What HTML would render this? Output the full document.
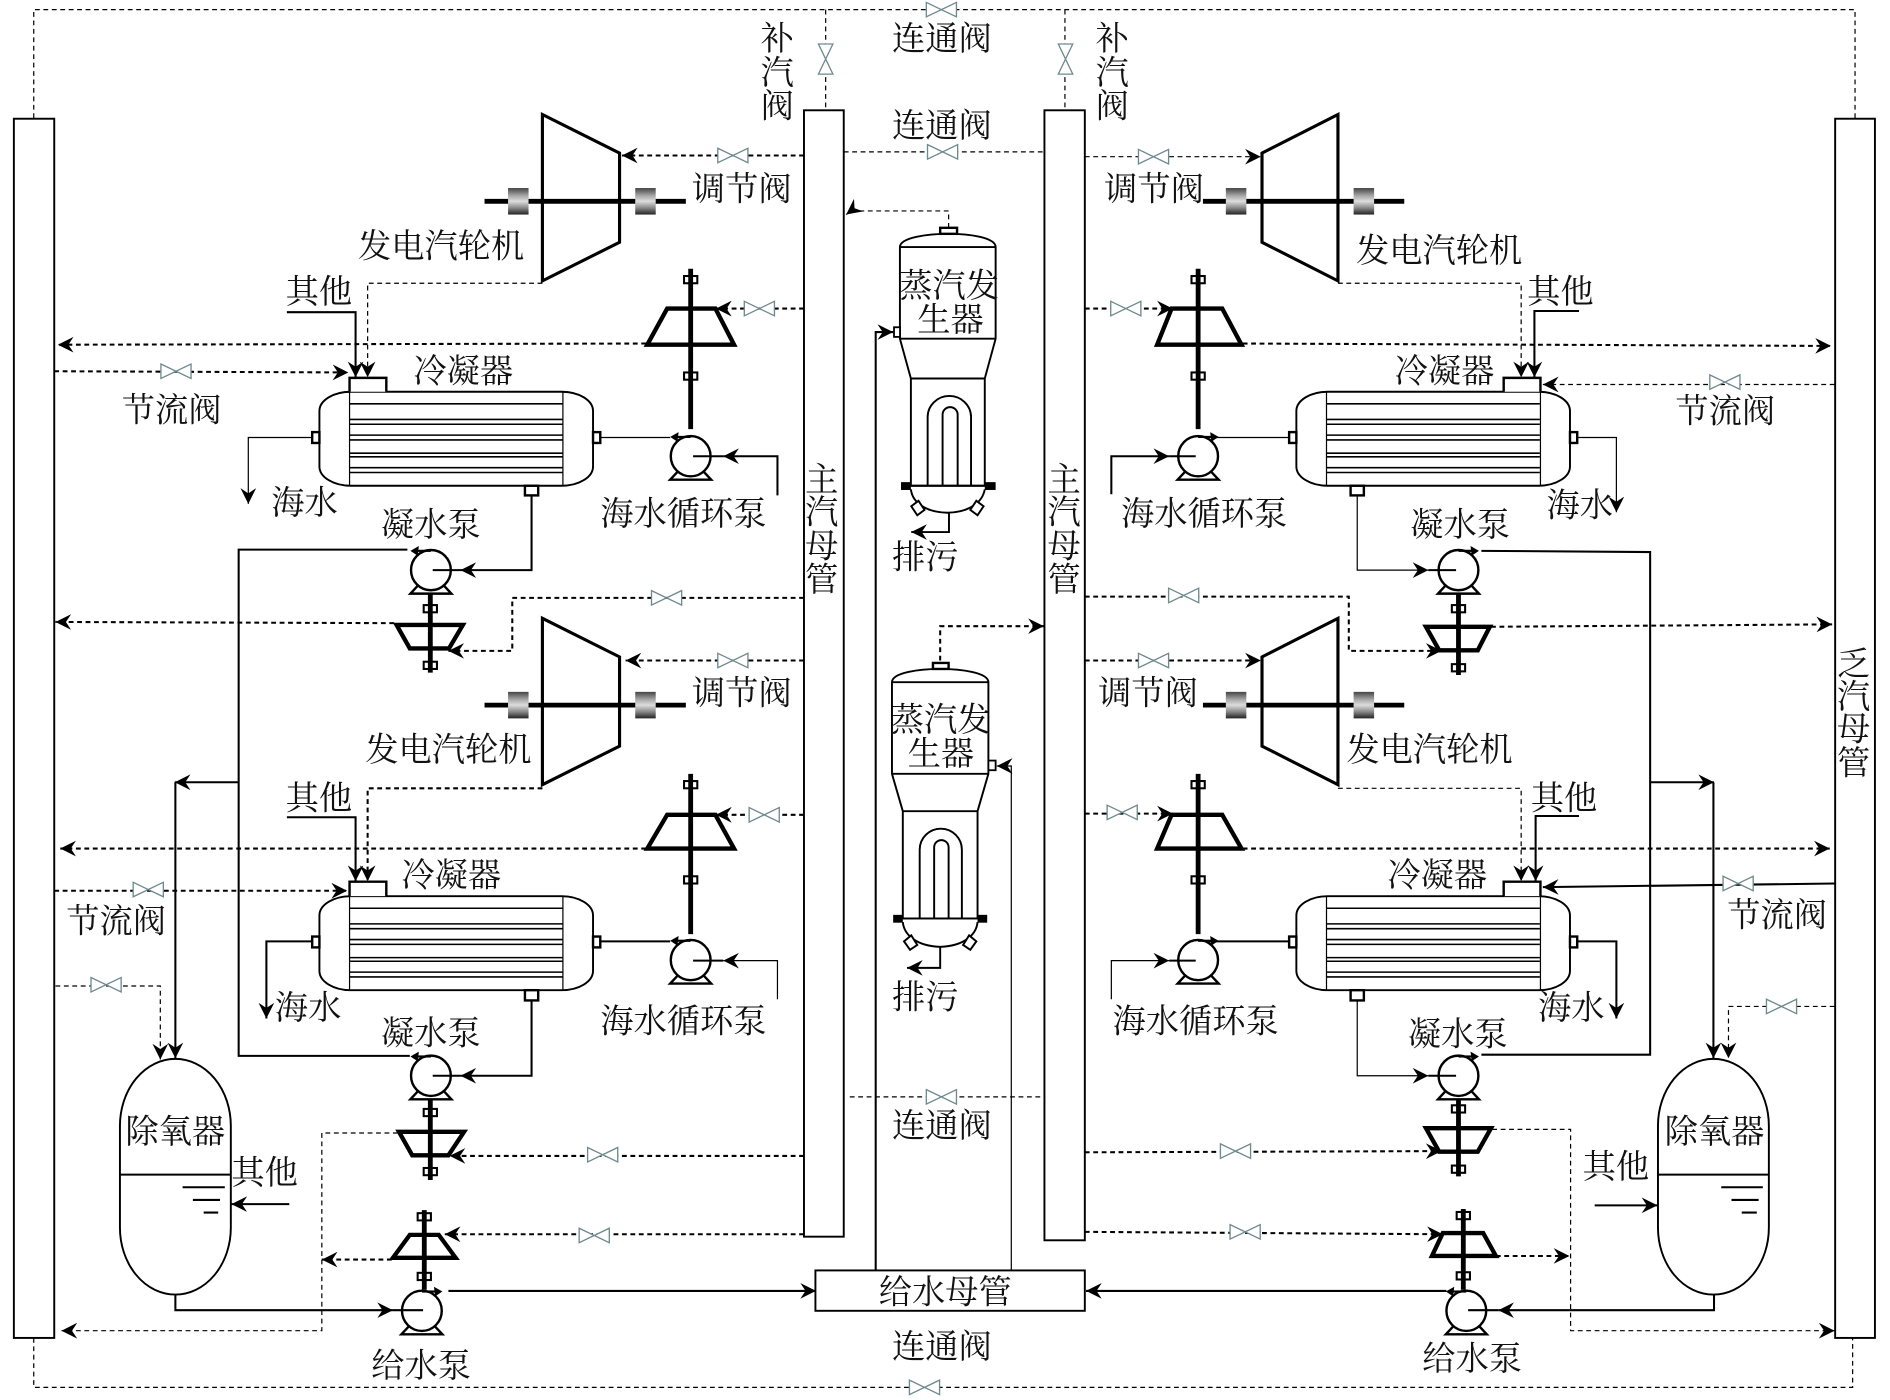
<!DOCTYPE html>
<html lang="zh"><head><meta charset="utf-8"><title>Diagram</title>
<style>
html,body{margin:0;padding:0;background:#fff}
svg{display:block}
text{font-family:"Liberation Serif","Noto Serif CJK SC",serif;font-size:27.6px;fill:#111}
.f{fill:#fff;stroke:#000;stroke-width:1.6}
.n{fill:none;stroke:#000}
.d{fill:none;stroke:#000;stroke-width:1.7;stroke-dasharray:4 3}
.t{fill:none;stroke:#000;stroke-width:1;stroke-dasharray:4 3}
.s{fill:none;stroke:#000;stroke-width:1.7}
.h{fill:none;stroke:#000;stroke-width:1}
.u{fill:none;stroke:#000;stroke-width:1.3}
.z{fill:#fff;stroke:#000;stroke-width:3.6;stroke-linejoin:miter}
.c{stroke:#000;stroke-width:4;fill:none}
.k{fill:#fff;stroke:#000;stroke-width:2}
</style></head><body>
<svg xmlns="http://www.w3.org/2000/svg" width="1890" height="1400" viewBox="0 0 1568 1161.5" preserveAspectRatio="none">
<defs>
<marker id="a" markerUnits="userSpaceOnUse" markerWidth="15" markerHeight="15" refX="13" refY="7" orient="auto" viewBox="0 0 15 14"><path d="M13,7 L0,0.5 L4.3,7 L0,13.5 Z" fill="#000"/></marker>
<linearGradient id="g" x1="0" y1="0" x2="0" y2="1"><stop offset="0" stop-color="#444"/><stop offset=".3" stop-color="#aaa"/><stop offset=".5" stop-color="#ddd"/><stop offset=".75" stop-color="#888"/><stop offset="1" stop-color="#222"/></linearGradient>
<g id="v"><path d="M-12.5,-6 L12.5,6 L12.5,-6 L-12.5,6 Z" fill="#fff" stroke="#6f8a8f" stroke-width="1.1"/></g>
<g id="p"><path d="M-10,12 L-17,19.5 L17,19.5 L10,12" fill="#fff" stroke="#000" stroke-width="2"/><ellipse cx="0" cy="0" rx="16.5" ry="16.7" fill="#fff" stroke="#000" stroke-width="2"/><path d="M0,-16 L-12,-16" stroke="#000" stroke-width="1.8" fill="none"/><path d="M-17,-16 L-10,-20 L-11,-12 Z" fill="#000"/></g>
<rect id="q" x="-5.5" y="-3" width="11" height="6" fill="#fff" stroke="#000" stroke-width="1.7"/>
<rect id="b" x="-8.5" y="-11" width="17" height="22" fill="url(#g)"/>
<g id="cd">
<rect x="265" y="0" width="227" height="78" rx="26" ry="16" class="f"/>
<path d="M290,0 V78 M467,0 V78" class="h"/>
<path d="M290,10 H467 M290,23 H467 M290,27 H467 M290,36 H467 M290,40 H467 M290,51 H467 M290,54 H467 M290,63 H467 M290,67 H467" class="u"/>
</g>
<g id="ce">
<rect x="0" y="0" width="227" height="78" rx="26" ry="16" class="f"/>
<path d="M25,0 V78 M202.5,0 V78" class="h"/>
<path d="M25,10 H202 M25,23 H202 M25,27 H202 M25,36 H202 M25,40 H202 M25,51 H202 M25,54 H202 M25,63 H202 M25,67 H202" class="u"/>
</g>
<g id="tl"><path d="M450,0 L514,32 L514,106 L450,138 Z" fill="none" stroke="#000" stroke-width="2.6"/></g>
<g id="tr"><path d="M1110,0 L1047,32 L1047,106 L1110,138 Z" fill="none" stroke="#000" stroke-width="2.6"/></g>
</defs>
<rect width="1568" height="1161.5" fill="#fff"/>

<!-- columns -->
<rect x="11.5" y="98.5" width="33.5" height="1011.5" class="f"/>
<rect x="1522.5" y="98.5" width="33" height="1011.5" class="f"/>
<rect x="667" y="91.5" width="33" height="934.5" class="f" stroke-width="2"/>
<rect x="866.5" y="91.5" width="33.5" height="937.5" class="f" stroke-width="2"/>
<rect x="676.5" y="1054" width="223.5" height="33.5" class="f"/>

<!-- top & bottom loops -->
<path d="M28,98 V8 H1539 V98" class="t"/>
<path d="M685,8 V91 M883.5,8 V91" class="t"/>
<path d="M700,126 H866" class="t"/>
<path d="M705,910 H866" class="t"/>
<path d="M28,1110 V1151 H1537 V1110" class="t"/>
<use href="#v" x="781" y="8"/><use href="#v" x="782" y="126"/><use href="#v" x="781" y="910"/><use href="#v" x="767" y="1151"/>
<use href="#v" transform="translate(685,49) rotate(90)"/><use href="#v" transform="translate(884,49) rotate(90)"/>

<!-- Turbines left -->
<use href="#tl" y="95"/><use href="#tl" y="513"/>
<path d="M402,167 H569 M402,585 H569" class="c"/>
<use href="#b" x="430" y="167"/><use href="#b" x="535.5" y="167"/><use href="#b" x="430" y="585"/><use href="#b" x="535.5" y="585"/>
<path d="M667,129 H516" class="d" marker-end="url(#a)"/><use href="#v" x="608" y="129"/>
<path d="M667,548 H519" class="d" marker-end="url(#a)"/><use href="#v" x="608" y="548"/>
<!-- Turbines right -->
<use href="#tr" y="95"/><use href="#tr" y="513"/>
<path d="M998,167 H1165 M998,585 H1165" class="c"/>
<use href="#b" x="1025.5" y="167"/><use href="#b" x="1131.5" y="167"/><use href="#b" x="1025.5" y="585"/><use href="#b" x="1131.5" y="585"/>
<path d="M900,130 H1046" class="t" marker-end="url(#a)"/><use href="#v" x="957" y="130"/>
<path d="M900,548 H1046" class="d" marker-end="url(#a)"/><use href="#v" x="957" y="548"/>

<!-- condensers -->
<use href="#cd" y="325"/><use href="#cd" y="743.5"/>
<use href="#ce" x="1075.5" y="325"/><use href="#ce" x="1075.5" y="743.5"/>
<path d="M290,325 V313.5 H320.5 V325" class="k" fill="none"/>
<path d="M290,743.5 V731.5 H320.5 V743.5" class="k" fill="none"/>
<path d="M1247.5,325 V313.5 H1278 V325" class="k" fill="none"/>
<path d="M1247.5,743.5 V731.5 H1278 V743.5" class="k" fill="none"/>
<g class="k">
<rect x="259" y="358.5" width="6" height="9"/><rect x="492" y="358.5" width="6" height="9"/><rect x="435.5" y="403" width="11" height="8"/>
<rect x="259" y="777" width="6" height="9"/><rect x="492" y="777" width="6" height="9"/><rect x="435.5" y="821.5" width="11" height="8.5"/>
<rect x="1069.5" y="358.5" width="6" height="9"/><rect x="1302.5" y="358.5" width="6" height="9"/><rect x="1120.5" y="403" width="11" height="8"/>
<rect x="1069.5" y="777" width="6" height="9"/><rect x="1302.5" y="777" width="6" height="9"/><rect x="1120.5" y="821.5" width="11" height="8.5"/>
</g>

<!-- other / exhaust into condenser -->
<path d="M238,259 H295 V313" class="s" marker-end="url(#a)"/>
<path d="M450,235 H305 V313" class="t" stroke-width="1.3" marker-end="url(#a)"/>
<path d="M238,678 H295 V731" class="s" marker-end="url(#a)"/>
<path d="M450,654 H305 V731" class="d" marker-end="url(#a)"/>
<path d="M1310,258 H1273 V313" class="s" marker-end="url(#a)"/>
<path d="M1110,235 H1262 V313" class="t" marker-end="url(#a)"/>
<path d="M1310,677 H1274 V731" class="s" marker-end="url(#a)"/>
<path d="M1110,654 H1262 V731" class="t" marker-end="url(#a)"/>

<!-- steam turbine drives: seawater pumps -->
<g id="sw1"><use href="#q" x="573" y="232"/><use href="#q" x="573" y="312"/><path d="M553.5,256 H593.5 L609,286 H537 Z" class="z" fill="#fff"/><path d="M573,223 V356" class="c"/></g>
<g><use href="#q" x="573" y="651"/><use href="#q" x="573" y="730"/><path d="M553.5,676 H593.5 L609,704 H537 Z" class="z"/><path d="M573,642 V775" class="c"/></g>
<g><use href="#q" x="994" y="232"/><use href="#q" x="994" y="312"/><path d="M972,256 H1014 L1030,286 H960 Z" class="z"/><path d="M994,223 V356" class="c"/></g>
<g><use href="#q" x="994" y="651"/><use href="#q" x="994" y="730"/><path d="M972,676 H1014 L1030,704 H960 Z" class="z"/><path d="M994,642 V775" class="c"/></g>
<path d="M667,256 H594" class="d" marker-end="url(#a)"/><use href="#v" x="630" y="256"/>
<path d="M667,676 H594" class="d" marker-end="url(#a)"/><use href="#v" x="634" y="676"/>
<path d="M900,256 H973" class="d" marker-end="url(#a)"/><use href="#v" x="934" y="256"/>
<path d="M900,675 H973" class="d" marker-end="url(#a)"/><use href="#v" x="931" y="674"/>
<path d="M536,285 L48,286" class="d" marker-end="url(#a)"/>
<path d="M536,704 H50" class="d" marker-end="url(#a)"/>
<path d="M1031,285 L1519,287" class="d" marker-end="url(#a)"/>
<path d="M1031,704 H1518" class="d" marker-end="url(#a)"/>
<path d="M45,308 L289,309" class="d" marker-end="url(#a)"/><use href="#v" x="146" y="308"/>
<path d="M45,739 H288" class="d" marker-end="url(#a)"/><use href="#v" x="123" y="738"/>
<path d="M1522,319 H1280" class="t" stroke-width="1.3" marker-end="url(#a)"/><use href="#v" x="1431" y="317"/>
<path d="M1522,733 L1280,736" class="s" marker-end="url(#a)"/><use href="#v" x="1442" y="733"/>

<!-- seawater pumps -->
<use href="#p" transform="translate(573,378.5)"/><use href="#p" transform="translate(573,796.5)"/>
<use href="#p" transform="translate(994,378.5) scale(-1,1)"/><use href="#p" transform="translate(994,796.5) scale(-1,1)"/>
<path d="M498,363 H556" class="h"/><path d="M498,781 H556" class="s"/>
<path d="M1069,363 H1003" class="h"/><path d="M1069,781 H1003" class="s"/>
<path d="M645,411 V378.5 H600" class="s" marker-end="url(#a)"/><path d="M600,378.5 H575" class="s" stroke-width="2"/>
<path d="M645,829 V797 H600" class="h" marker-end="url(#a)"/><path d="M600,797 H575" class="s" stroke-width="2"/>
<path d="M922,410 V378.5 H970" class="s" marker-end="url(#a)"/><path d="M970,378.5 H992" class="s" stroke-width="2"/>
<path d="M922,829 V797 H970" class="h" marker-end="url(#a)"/><path d="M970,797 H992" class="s" stroke-width="2"/>
<path d="M259,363 H206 V418" class="h" marker-end="url(#a)"/>
<path d="M259,781 H221 V845" class="s" marker-end="url(#a)"/>
<path d="M1309,363 H1341 V425" class="h" marker-end="url(#a)"/>
<path d="M1309,781 H1341 V845" class="s" marker-end="url(#a)"/>

<!-- condensate pump turbines -->
<g><use href="#q" x="357" y="505"/><use href="#q" x="357" y="552"/><path d="M329,518.5 H384 L372.5,538 H340 Z" class="z"/><path d="M357,492 V558" class="c"/></g>
<g><use href="#q" x="357" y="923"/><use href="#q" x="357" y="972"/><path d="M331,939 H385 L372,958.5 H342 Z" class="z"/><path d="M357,910 V979" class="c"/></g>
<g><use href="#q" x="1210" y="505"/><use href="#q" x="1210" y="554"/><path d="M1183,520 H1236 L1226,539.5 H1194 Z" class="z"/><path d="M1210,492 V560" class="c"/></g>
<g><use href="#q" x="1210" y="920"/><use href="#q" x="1210" y="970"/><path d="M1183,936 H1237 L1226,955.5 H1194 Z" class="z"/><path d="M1210,910 V976" class="c"/></g>
<!-- feed pump turbines -->
<g><use href="#q" x="352" y="1009.5"/><use href="#q" x="352" y="1059"/><path d="M340,1024.5 H364 L378,1043.5 H326 Z" class="z"/><path d="M352,1004 V1070" class="c"/></g>
<g><use href="#q" x="1214" y="1008.5"/><use href="#q" x="1214" y="1058.5"/><path d="M1197,1023 H1230.5 L1241,1042 H1188 Z" class="z"/><path d="M1214,1003 V1070" class="c"/></g>

<!-- condensate pumps -->
<use href="#p" transform="translate(357.5,473)"/><use href="#p" transform="translate(357.5,892.5)"/>
<use href="#p" transform="translate(1210,473) scale(-1,1)"/><use href="#p" transform="translate(1210,892.5) scale(-1,1)"/>
<path d="M441,411 V473 H382" class="s" marker-end="url(#a)"/><path d="M382,473 H359" class="s" stroke-width="2"/>
<path d="M441,830 V892.5 H382" class="s" marker-end="url(#a)"/><path d="M382,892.5 H359" class="s" stroke-width="2"/>
<path d="M1126,411 V473 H1185" class="h" marker-end="url(#a)"/><path d="M1185,473 H1208" class="s" stroke-width="2"/>
<path d="M1126,830 V892.5 H1185" class="h" marker-end="url(#a)"/><path d="M1185,892.5 H1208" class="s" stroke-width="2"/>
<path d="M338,456 H198 V876 H340" class="s"/>
<path d="M198,649 H145" class="s" marker-end="url(#a)"/>
<path d="M145.5,649 V878" class="s" marker-end="url(#a)"/>
<path d="M1229,457 L1369,458 V875 H1229" class="s"/>
<path d="M1369,649 H1422" class="s" marker-end="url(#a)"/>
<path d="M1421.5,649 V878" class="s" marker-end="url(#a)"/>

<!-- dashed lines around small turbines -->
<path d="M327,517 L46,516" class="d" marker-end="url(#a)"/>
<path d="M667,496 H425 V540 H372" class="d" marker-end="url(#a)"/><use href="#v" x="553" y="496"/>
<path d="M1237,520 L1520,518" class="d" marker-end="url(#a)"/>
<path d="M900,495 H1119 V540 H1196" class="d" marker-end="url(#a)"/><use href="#v" x="982" y="494"/>
<path d="M330,940 H267 V1104 H51" class="t" marker-end="url(#a)" stroke-width="1.2"/>
<path d="M667,959 H373" class="d" marker-end="url(#a)"/><use href="#v" x="500" y="958"/>
<path d="M667,1024 H369" class="d" marker-end="url(#a)"/><use href="#v" x="493" y="1025"/>
<path d="M325,1045 H267" class="d" marker-end="url(#a)"/>
<path d="M900,956 L1196,955" class="d" marker-end="url(#a)"/><use href="#v" x="1025" y="955"/>
<path d="M1238,937 H1303 V1104 H1522" class="t" marker-end="url(#a)" stroke-width="1.2"/>
<path d="M900,1022 L1197,1024" class="d" marker-end="url(#a)"/><use href="#v" x="1033" y="1022"/>
<path d="M1241,1042 H1302" class="d" marker-end="url(#a)"/>
<path d="M46,818 H133 V879" class="t" stroke-width="1.2" marker-end="url(#a)"/><use href="#v" x="88" y="817"/>
<path d="M1522,835 H1434 V878" class="t" stroke-width="1.2" marker-end="url(#a)"/><use href="#v" x="1478" y="835"/>

<!-- feed pumps -->
<use href="#p" transform="translate(350,1087.5) scale(-1,1)"/>
<use href="#p" transform="translate(1216.5,1087.5)"/>
<path d="M372,1071 H677" class="s" marker-end="url(#a)"/>
<path d="M1200,1071 H901" class="s" marker-end="url(#a)"/>
<path d="M145.5,1074 V1087 H326" class="s" marker-end="url(#a)"/><path d="M326,1087 H351" class="s" stroke-width="2"/>
<path d="M1422,1074 V1087 H1243" class="s" marker-end="url(#a)"/><path d="M1243,1087 H1218" class="s" stroke-width="2"/>

<!-- deaerators -->
<path d="M99.5,934 A46,55.5 0 0 1 191.5,934 V1018.5 A46,55.5 0 0 1 99.5,1018.5 Z" class="f"/>
<path d="M99.5,974.5 H191.5" class="s"/>
<path d="M151.5,985 H186.5 M160,995.5 H182.5 M169,1006 H181" class="s"/>
<path d="M1375.5,934 A46,55.5 0 0 1 1467.5,934 V1018.5 A46,55.5 0 0 1 1375.5,1018.5 Z" class="f"/>
<path d="M1375.5,974.5 H1467.5" class="s"/>
<path d="M1428,985 H1462.5 M1436.5,995.5 H1459 M1445,1006 H1457.5" class="s"/>
<path d="M240,999 H192" class="s" marker-end="url(#a)"/>
<path d="M1323,1000 H1375" class="s" marker-end="url(#a)"/>

<!-- Steam generators -->
<path d="M726.5,1054 V275.5 H741" class="s" marker-end="url(#a)"/>
<path d="M839,1054 V635.5 H827" class="h" marker-end="url(#a)"/>
<path d="M787,189 V175 H706 L702,178" class="t" stroke-width="1.2" marker-end="url(#a)"/>
<path d="M780,548 V519.5 H866" class="d" marker-end="url(#a)"/>
<g id="sg1" fill="none" stroke="#000" stroke-width="1.6">
<path d="M746.6,281 V205 C746.6,197 770,194 787,194 C804,194 826,197 826,205 V281 L817,314 V403 H755.7 V314 Z" fill="#fff"/>
<path d="M746.6,205 H826 M746.6,281 H826 M755.7,314 H817"/>
<path d="M769.6,403 V346 A18,17.5 0 0 1 805.6,346 V403 M782,403 V344 A6.2,6.2 0 0 1 794.5,344 V403"/>
<path d="M755.7,403 H817 M755.7,406 C757,417 768,425 786,425.4 C804,425 815,417 817,406"/>
<rect x="780" y="189" width="14" height="5" fill="#fff" stroke-width="2"/>
<rect x="741.7" y="271.5" width="5" height="8" fill="#fff" stroke-width="1.5"/>
<path d="M756,420 L762,415.5 L767,423 L761,427.5 Z M816,420 L810,415.5 L805,423 L811,427.5 Z" fill="#fff"/>
<path d="M787.3,425.4 V441.4 H756" marker-end="url(#a)"/>
</g>
<rect x="747.5" y="400" width="8.2" height="6.5" fill="#000"/><rect x="817" y="400" width="9" height="6.5" fill="#000"/>
<g fill="none" stroke="#000" stroke-width="1.6">
<path d="M740,642 V566 C740,558 763,555 780,555 C797,555 820,558 820,566 V642 L811,673 V762 H749 V673 Z" fill="#fff"/>
<path d="M740,566 H820 M740,642 H820 M749,673 H811"/>
<path d="M763,762 V705 A17.5,17.5 0 0 1 798,705 V762 M775,762 V703 A6,6 0 0 1 787,703 V762"/>
<path d="M749,762 H811 M749,765 C750,776 761,785 780,785.5 C799,785 810,776 811,765"/>
<rect x="774" y="550" width="13" height="5" fill="#fff" stroke-width="2"/>
<rect x="820" y="631" width="6" height="8" fill="#fff" stroke-width="1.5"/>
<path d="M750,781 L756,776 L761,784 L755,788 Z M810,781 L804,776 L799,784 L805,788 Z" fill="#fff"/>
<path d="M780,785.5 V803 H752.5" marker-end="url(#a)"/>
</g>
<rect x="741" y="759" width="8" height="6.5" fill="#000"/><rect x="811" y="759" width="8" height="6.5" fill="#000"/>

<!-- labels -->
<g transform="translate(-1,0.5)">
<text x="741" y="41">连通阀</text><text x="741" y="113">连通阀</text>
<text x="741" y="943">连通阀</text><text x="741" y="1126">连通阀</text>
<text x="632" y="41">补</text><text x="632" y="69">汽</text><text x="632" y="97">阀</text>
<text x="910" y="41">补</text><text x="910" y="69">汽</text><text x="910" y="97">阀</text>
<text x="669" y="407">主</text><text x="669" y="434">汽</text><text x="669" y="462">母</text><text x="669" y="490">管</text>
<text x="870" y="407">主</text><text x="870" y="434">汽</text><text x="870" y="462">母</text><text x="870" y="490">管</text>
<text x="1525" y="560">乏</text><text x="1525" y="587">汽</text><text x="1525" y="614">母</text><text x="1525" y="642">管</text>
<text x="575" y="166">调节阀</text><text x="917" y="166">调节阀</text>
<text x="575" y="584">调节阀</text><text x="912" y="584">调节阀</text>
<text x="298" y="213">发电汽轮机</text><text x="1126" y="217">发电汽轮机</text>
<text x="304" y="631">发电汽轮机</text><text x="1118" y="631">发电汽轮机</text>
<text x="238" y="251">其他</text><text x="1268" y="251">其他</text>
<text x="238" y="671">其他</text><text x="1271" y="671">其他</text>
<text x="193" y="982">其他</text><text x="1314" y="977">其他</text>
<text x="344" y="317">冷凝器</text><text x="1158" y="317">冷凝器</text>
<text x="334" y="735">冷凝器</text><text x="1152" y="735">冷凝器</text>
<text x="102" y="349">节流阀</text><text x="1391" y="350">节流阀</text>
<text x="56" y="773">节流阀</text><text x="1434" y="768">节流阀</text>
<text x="226" y="426">海水</text><text x="1284" y="428">海水</text>
<text x="229" y="845">海水</text><text x="1277" y="845">海水</text>
<text x="499" y="435">海水循环泵</text><text x="931" y="435">海水循环泵</text>
<text x="499" y="856">海水循环泵</text><text x="924" y="856">海水循环泵</text>
<text x="317" y="444">凝水泵</text><text x="1171" y="444">凝水泵</text>
<text x="317" y="866">凝水泵</text><text x="1169" y="867">凝水泵</text>
<text x="105" y="948">除氧器</text><text x="1382" y="948">除氧器</text>
<text x="309" y="1142">给水泵</text><text x="1181" y="1136">给水泵</text>
<text x="730" y="1081">给水母管</text>
<text x="747" y="246">蒸汽发</text><text x="762" y="274">生器</text>
<text x="740" y="606">蒸汽发</text><text x="754" y="634">生器</text>
<text x="741" y="471">排污</text><text x="741" y="836">排污</text>
</g>
</svg>
</body></html>
